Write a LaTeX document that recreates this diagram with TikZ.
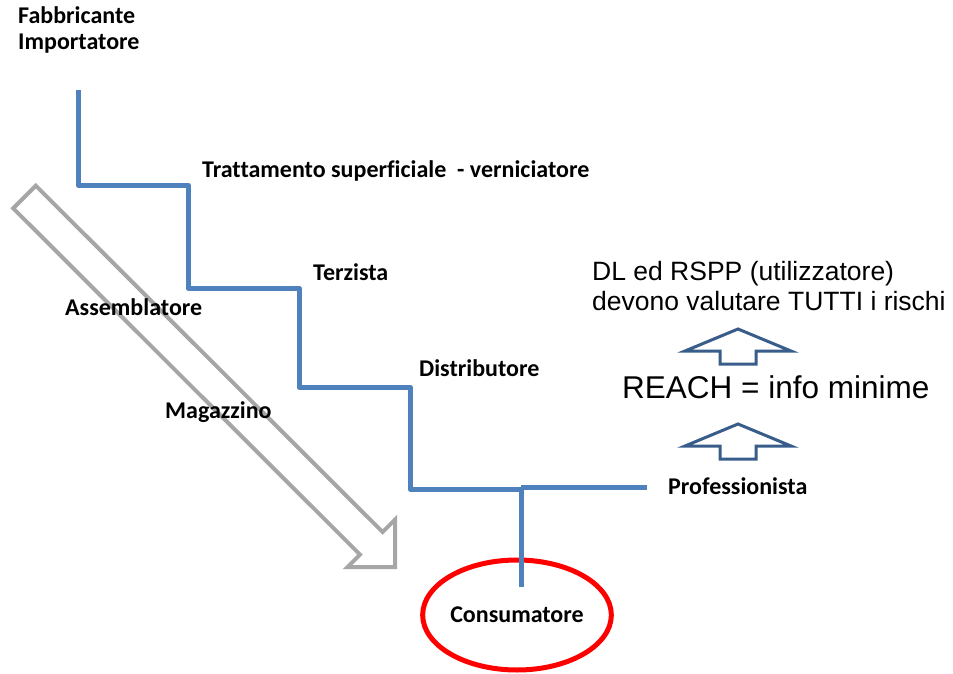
\documentclass[tikz,border=0pt]{standalone}
\usepackage{fontspec}
\setmainfont{Carlito}[Ligatures=NoCommon]
\newfontfamily\arialfont{Liberation Sans}
\usetikzlibrary{shapes.geometric}

\definecolor{stairblue}{RGB}{79,129,189}
\definecolor{flowgray}{RGB}{166,166,166}
\definecolor{infoblue}{RGB}{56,93,138}

\tikzstyle{stair} = [draw=stairblue, line width=5pt, line join=round]
\tikzstyle{actor} = [font=\fontsize{24}{26}\selectfont\bfseries, inner sep=0pt, anchor=base west]
\tikzstyle{note} = [font=\arialfont\fontsize{26.5}{30}\selectfont, inner sep=0pt, anchor=base west, align=left]
\tikzstyle{flowarrow} = [draw=flowgray, line width=4pt, fill=white]
\tikzstyle{infoarrow} = [draw=infoblue, line width=3pt, fill=white]

\begin{document}
\begin{tikzpicture}[x=1pt, y=-1pt]
	\useasboundingbox (0,0) rectangle (953,674);

	% freccia grigia della catena
	\draw [flowarrow] (35.8,185.7) -- (382.6,532) -- (395,519.6) -- (395,567)
		-- (347.6,567) -- (360,554.6) -- (13.2,208.3) -- cycle;

	\node (fabbricante) [actor, align=left] at (18,50) {Fabbricante\\Importatore};
	\node (trattamento) [actor] at (202,177) {Trattamento superficiale~~- verniciatore};
	\node (terzista) [actor] at (313,280) {Terzista};
	\node (assemblatore) [actor] at (65,315) {Assemblatore};
	\node (distributore) [actor] at (419,376) {Distributore};
	\node (magazzino) [actor] at (165,418) {Magazzino};
	\node (professionista) [actor] at (668,494) {Professionista};
	\node (consumatore) [ellipse, draw=red, line width=5pt, minimum width=166pt, minimum height=110pt,
		inner sep=0pt, font=\fontsize{24}{26}\selectfont\bfseries] at (517,615) {Consumatore};

	\node (valutare) [note] at (592,310) {DL ed RSPP (utilizzatore)\\devono valutare TUTTI i rischi};
	\node (reach) [note, font=\arialfont\fontsize{31.5}{36}\selectfont] at (622,398) {REACH = info minime};

	% gradini
	\coordinate (top) at (78,90);
	\coordinate (k1) at (188,185);
	\coordinate (k2) at (299,288);
	\coordinate (k3) at (410,387);
	\coordinate (tee) at (521,489);
	\coordinate (fork) at (521,487);
	\coordinate (pro) at (647,487);
	\coordinate (drop) at (521,587);

	\draw [stair] (top) |- (k1) |- (k2) |- (k3) |- (tee);
	\draw [stair] (fork) -- (pro);
	\draw [stair] (tee) -- (drop);

	% frecce verso l'alto
	\draw [infoarrow] (720,364) -- (720,351) -- (685,351) -- (738,329) -- (791,351) -- (756,351) -- (756,364) -- cycle;
	\draw [infoarrow] (720,459) -- (720,446) -- (685,446) -- (738,424) -- (791,446) -- (756,446) -- (756,459) -- cycle;
\end{tikzpicture}
\end{document}
